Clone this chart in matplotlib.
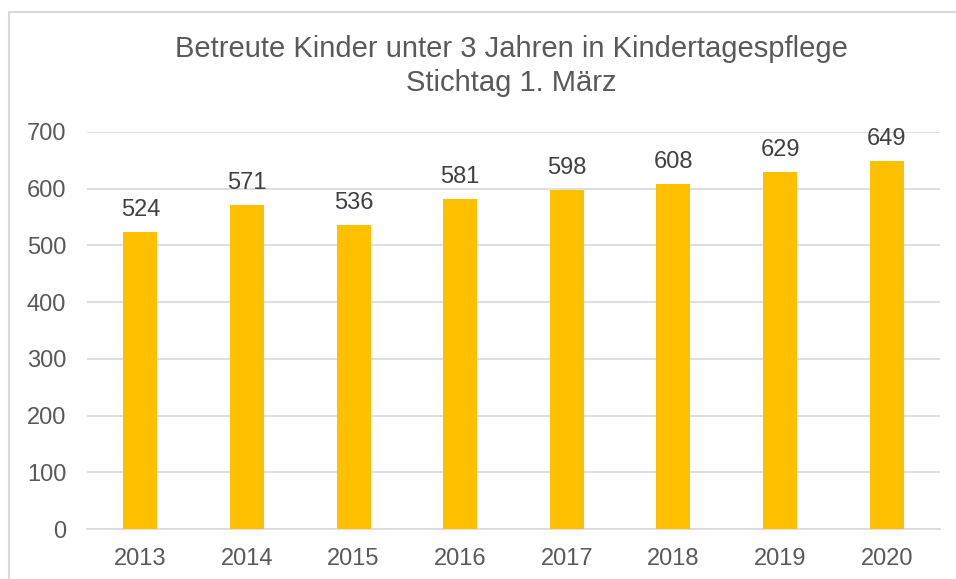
import matplotlib.pyplot as plt
from matplotlib.patches import Rectangle

plt.rcParams['font.family'] = ['Liberation Sans', 'DejaVu Sans']

jahre = ['2013', '2014', '2015', '2016', '2017', '2018', '2019', '2020']
kinder = [524, 571, 536, 581, 598, 608, 629, 649]

fig = plt.figure(figsize=(9.56, 5.79), dpi=100)
ax = fig.add_axes([87 / 956, 1 - 529 / 579, (940 - 87) / 956, (529 - 132) / 579])

x = range(len(jahre))
bars = ax.bar(x, kinder, width=0.32, color='#FFC000', zorder=3)
for xi, v in zip(x, kinder):
    ax.annotate(str(v), (xi, v), xytext=(0, 8), textcoords='offset points',
                ha='center', va='bottom', fontsize=17, color='#404040')

ax.set_xlim(-0.5, len(jahre) - 0.5)
ax.set_ylim(0, 700)
ax.set_yticks(range(0, 701, 100))
ax.set_xticks(list(x))
ax.set_xticklabels(jahre)
ax.grid(axis='y', color='#D9D9D9', linewidth=1.2, zorder=0)
for s in ['top', 'right', 'left']:
    ax.spines[s].set_visible(False)
ax.spines['bottom'].set_color('#D9D9D9')
ax.spines['bottom'].set_linewidth(1.2)
ax.tick_params(length=0, labelsize=17, labelcolor='#595959')
ax.tick_params(axis='y', pad=15)
ax.tick_params(axis='x', pad=14)

fig.text(0.535, 1 - 66 / 579, 'Betreute Kinder unter 3 Jahren in Kindertagespflege\nStichtag 1. März',
         ha='center', va='center', fontsize=21, color='#595959', linespacing=1.3)

fig.patches.append(Rectangle((9 / 956, -0.1), 1.2, 1.1 - 12 / 579, transform=fig.transFigure,
                             fill=False, edgecolor='#D9D9D9', linewidth=1.5))

fig.savefig('out.png', dpi=100)
